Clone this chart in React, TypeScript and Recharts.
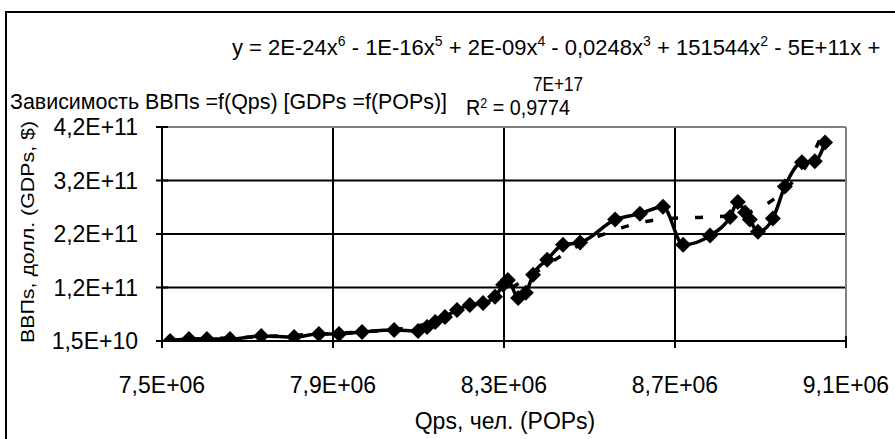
import React from "react";
import {
  CartesianGrid,
  ComposedChart,
  Line,
  ReferenceLine,
  XAxis,
  YAxis,
} from "recharts";

// population (Qps, persons) and GDP (ВВПs, USD)
const qps = [
  7.519e6, 7.563e6, 7.605e6, 7.659e6, 7.732e6, 7.809e6, 7.867e6, 7.914e6,
  7.968e6, 8.043e6, 8.099e6, 8.12e6, 8.139e6, 8.162e6, 8.19e6, 8.22e6,
  8.251e6, 8.279e6, 8.298e6, 8.309e6, 8.333e6, 8.351e6, 8.368e6, 8.401e6,
  8.438e6, 8.478e6, 8.56e6, 8.618e6, 8.672e6, 8.719e6, 8.782e6, 8.829e6,
  8.847e6, 8.864e6, 8.875e6, 8.894e6, 8.929e6, 8.957e6, 8.997e6, 9.027e6,
  9.051e6,
];
const gdp = [
  1.5e10, 1.87e10, 1.87e10, 1.87e10, 2.44e10, 2.25e10, 2.81e10, 2.81e10,
  3.19e10, 3.56e10, 3.37e10, 4.12e10, 5.06e10, 6.0e10, 7.31e10, 8.25e10,
  8.62e10, 9.75e10, 1.2e11, 1.29e11, 9.56e10, 1.05e11, 1.39e11, 1.67e11,
  1.95e11, 1.99e11, 2.42e11, 2.53e11, 2.66e11, 1.95e11, 2.12e11, 2.47e11,
  2.75e11, 2.55e11, 2.42e11, 2.19e11, 2.44e11, 3.04e11, 3.49e11, 3.51e11,
  3.86e11,
];

// polynomial trend line
const trendQps = [
  7.519e6, 7.659e6, 7.823e6, 7.963e6, 8.057e6, 8.127e6, 8.197e6, 8.267e6,
  8.337e6, 8.408e6, 8.478e6, 8.548e6, 8.618e6, 8.688e6, 8.758e6, 8.829e6,
  8.899e6, 8.969e6, 9.016e6, 9.046e6,
];
const trendGdp = [
  1.69e10, 2.06e10, 2.62e10, 3.19e10, 3.75e10, 4.87e10, 6.94e10, 9.37e10,
  1.24e11, 1.61e11, 1.95e11, 2.19e11, 2.36e11, 2.44e11, 2.46e11, 2.49e11,
  2.64e11, 3.07e11, 3.54e11, 4.05e11,
];

const xTicks = [7.5e6, 7.9e6, 8.3e6, 8.7e6, 9.1e6];
const xTickLabels = ["7,5E+06", "7,9E+06", "8,3E+06", "8,7E+06", "9,1E+06"];
const yTicks = [1.5e10, 1.15e11, 2.15e11, 3.15e11, 4.15e11];
const yTickLabels = ["1,5E+10", "1,2E+11", "2,2E+11", "3,2E+11", "4,2E+11"];

const series = qps.map((q, i) => ({ q, gdp: gdp[i] }));
const trend = trendQps.map((q, i) => ({ q, trend: trendGdp[i] }));

const FONT = "'Liberation Sans', Arial, sans-serif";
const TICK_SIZE = 6;
const Y_GAP = 18;
const X_GAP = 30;

function Diamond(props: any) {
  const { cx, cy } = props;
  if (cx == null || cy == null) return null;
  const r = 8;
  return (
    <path
      d={`M${cx},${cy - r}L${cx + r},${cy}L${cx},${cy + r}L${cx - r},${cy}Z`}
      fill="#000"
    />
  );
}

function YTick(props: any) {
  const { x, y, payload } = props;
  const ax = x + TICK_SIZE + Y_GAP;
  return (
    <g>
      <line x1={ax - 6} x2={ax + 6} y1={y} y2={y} stroke="#000" strokeWidth={2} />
      <text x={x} y={y} dy="0.35em" textAnchor="end" fontSize={23} fontFamily={FONT} fill="#000">
        {yTickLabels[yTicks.indexOf(payload.value)]}
      </text>
    </g>
  );
}

function XTick(props: any) {
  const { x, y, payload } = props;
  const ay = y - TICK_SIZE - X_GAP;
  return (
    <g>
      <line x1={x} x2={x} y1={ay - 5} y2={ay + 7} stroke="#000" strokeWidth={2} />
      <text x={x} y={y} dy={16} textAnchor="middle" fontSize={23} fontFamily={FONT} fill="#000">
        {xTickLabels[xTicks.indexOf(payload.value)]}
      </text>
    </g>
  );
}

export default function App() {
  return (
    <div
      style={{
        position: "absolute",
        left: 0,
        top: 0,
        width: 895,
        height: 439,
        overflow: "hidden",
        background: "#fff",
        fontFamily: FONT,
      }}
    >
      <ComposedChart
        width={895}
        height={439}
        margin={{ top: 127, right: 49, bottom: 38, left: 12 }}
      >
        <CartesianGrid stroke="#000" strokeWidth={2} />
        <XAxis
          type="number"
          dataKey="q"
          domain={[7.5e6, 9.1e6]}
          ticks={xTicks}
          height={60}
          tickSize={TICK_SIZE}
          tickMargin={X_GAP}
          tickLine={false}
          axisLine={{ stroke: "#000", strokeWidth: 2 }}
          tick={XTick}
          allowDataOverflow
        />
        <YAxis
          type="number"
          domain={[1.5e10, 4.15e11]}
          ticks={yTicks}
          width={150}
          tickSize={TICK_SIZE}
          tickMargin={Y_GAP}
          tickLine={false}
          axisLine={{ stroke: "#000", strokeWidth: 2 }}
          tick={YTick}
          allowDataOverflow
        />
        <ReferenceLine y={4.15e11} stroke="#808080" strokeWidth={2} />
        <ReferenceLine x={9.1e6} stroke="#808080" strokeWidth={2} />
        <Line
          data={trend}
          dataKey="trend"
          type="monotone"
          stroke="#000"
          strokeWidth={3.5}
          strokeDasharray="8 17"
          dot={false}
          isAnimationActive={false}
        />
        <Line
          data={series}
          dataKey="gdp"
          type="monotone"
          stroke="#000"
          strokeWidth={3.5}
          dot={<Diamond />}
          isAnimationActive={false}
        />
      </ComposedChart>
      <svg
        width={895}
        height={439}
        style={{ position: "absolute", left: 0, top: 0, pointerEvents: "none" }}
        fontFamily={FONT}
      >
        <rect x={6} y={12} width={900} height={440} fill="none" stroke="#000" strokeWidth={2} />
        <text x={232} y={55} fontSize={22}>
          y = 2E-24x<tspan dy={-9} fontSize={14}>6</tspan>
          <tspan dy={9}> - 1E-16x</tspan>
          <tspan dy={-9} fontSize={14}>5</tspan>
          <tspan dy={9}> + 2E-09x</tspan>
          <tspan dy={-9} fontSize={14}>4</tspan>
          <tspan dy={9}> - 0,0248x</tspan>
          <tspan dy={-9} fontSize={14}>3</tspan>
          <tspan dy={9}> + 151544x</tspan>
          <tspan dy={-9} fontSize={14}>2</tspan>
          <tspan dy={9}> - 5E+11x +</tspan>
        </text>
        <text x={558} y={91} fontSize={21} textAnchor="middle" textLength={50} lengthAdjust="spacingAndGlyphs">
          7E+17
        </text>
        <text x={10} y={109} fontSize={22} textLength={437} lengthAdjust="spacingAndGlyphs">
          Зависимость ВВПs =f(Qps) [GDPs =f(POPs)]
        </text>
        <text x={466} y={115} fontSize={22} textLength={104} lengthAdjust="spacingAndGlyphs">
          R<tspan dy={-7} fontSize={14}>2</tspan>
          <tspan dy={7}> = 0,9774</tspan>
        </text>
        <text
          transform="translate(34,232) rotate(-90)"
          fontSize={19}
          textAnchor="middle"
          textLength={222}
          lengthAdjust="spacingAndGlyphs"
        >
          ВВПs, долл. (GDPs, $)
        </text>
        <text x={505} y={429} fontSize={23} textAnchor="middle">
          Qps, чел. (POPs)
        </text>
      </svg>
    </div>
  );
}
